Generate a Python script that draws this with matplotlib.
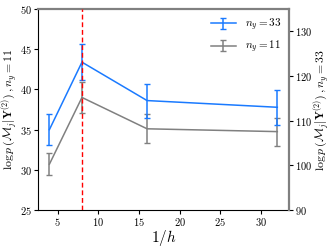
import numpy as np
import matplotlib
matplotlib.use('Agg')
import matplotlib.pyplot as plt
from matplotlib.ticker import FuncFormatter

plt.rcParams['mathtext.fontset'] = 'cm'
plt.rcParams['font.family'] = 'serif'

# data
inv_h = [4, 8, 16, 32]
lml_11 = [30.7, 39.0, 35.1, 34.75]
err_11 = [1.35, 1.95, 1.8, 1.75]
lml_33 = [108.0, 123.1, 114.5, 113.0]
err_33 = [3.4, 4.0, 3.8, 3.9]
best_h = 8

blue = '#1a7aff'

fig = plt.figure(figsize=(3.32, 2.48), dpi=100)
ax1 = fig.add_axes([0.1145, 0.1532, 0.7551, 0.8105])
ax2 = ax1.twinx()

e11 = ax1.errorbar(inv_h, lml_11, yerr=err_11, color='gray', lw=1.1,
                   capsize=2.5, label=r'$n_y = 11$')
e33 = ax2.errorbar(inv_h, lml_33, yerr=err_33, color=blue, lw=1.1,
                   capsize=2.5, label=r'$n_y = 33$')
ax2.axvline(best_h, color='red', ls='--', lw=1.0, dashes=(3.5, 2), zorder=5)

ax1.set_ylim(25, 50)
ax2.set_ylim(90, 135)
ax1.set_xlim(2.6, 33.4)
ax1.set_yticks([25, 30, 35, 40, 45, 50])
ax2.set_yticks([90, 100, 110, 120, 130])
ax1.set_xticks([5, 10, 15, 20, 25, 30])

fmt = FuncFormatter(lambda v, p: '$%g$' % v)
for a in (ax1, ax2):
    a.xaxis.set_major_formatter(fmt)
    a.yaxis.set_major_formatter(fmt)
    a.tick_params(labelsize=7.5, length=3, width=0.8, pad=1.5)

ax1.set_ylabel(r'$\log p\,(\mathcal{M}_j|\mathbf{Y}^{(2)})\,,n_y = 11$', fontsize=8.5)
ax2.set_ylabel(r'$\log p\,(\mathcal{M}_j|\mathbf{Y}^{(2)})\,,n_y = 33$', fontsize=8.5)
ax1.yaxis.set_label_coords(-0.07, 0.5)
ax2.yaxis.set_label_coords(1.09, 0.5)
ax1.set_xlabel(r'$1/h$', fontsize=11, labelpad=0)

ax1.spines['top'].set_visible(False)
ax1.spines['right'].set_visible(False)
ax2.spines['left'].set_visible(False)
ax2.spines['bottom'].set_visible(False)
for s in ('top', 'right'):
    ax2.spines[s].set_color('gray')
    ax2.spines[s].set_linewidth(1.6)

ax2.legend([e33, e11], [r'$n_y = 33$', r'$n_y = 11$'], loc='upper right',
           frameon=False, fontsize=8, handlelength=2.2, borderaxespad=0.3)

fig.savefig('out.png', dpi=100)
